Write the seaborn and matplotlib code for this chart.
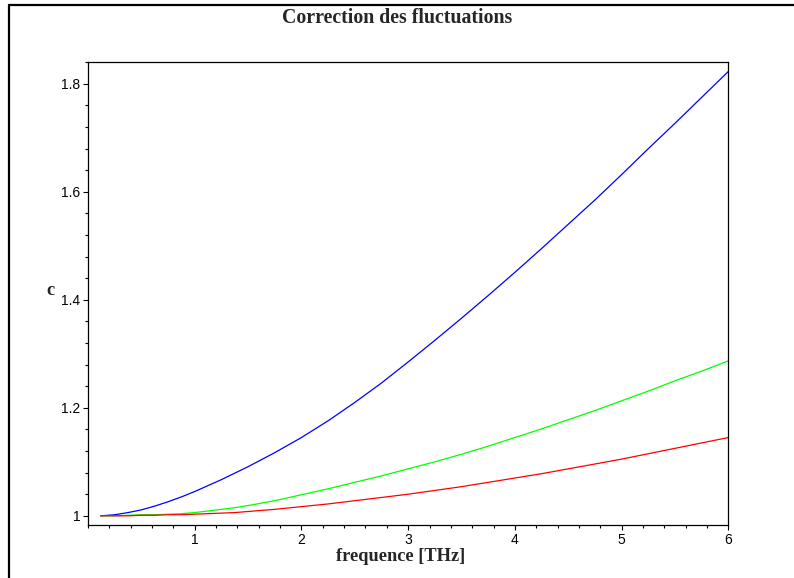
import numpy as np
import pandas as pd
import matplotlib
matplotlib.use("Agg")
import matplotlib.pyplot as plt
from matplotlib.lines import Line2D
from matplotlib.ticker import MultipleLocator, FixedLocator
import seaborn as sns

# Frequency samples [THz]
freq = [0.12, 0.25, 0.375, 0.5, 0.625, 0.75, 0.875, 1.0, 1.125, 1.25, 1.375, 1.5,
        1.75, 2.0, 2.25, 2.5, 2.75, 3.0, 3.25, 3.5, 3.75, 4.0, 4.25, 4.5, 4.75,
        5.0, 5.25, 5.5, 5.75, 6.0]

# Fluctuation correction factor c for the three cases
c_blue = [1.000, 1.002, 1.006, 1.011, 1.018, 1.026, 1.035, 1.045, 1.056, 1.067,
          1.079, 1.091, 1.117, 1.145, 1.176, 1.210, 1.246, 1.285, 1.325, 1.366,
          1.408, 1.451, 1.495, 1.540, 1.585, 1.632, 1.680, 1.727, 1.775, 1.823]
c_green = [1.000, 1.000, 1.001, 1.002, 1.002, 1.003, 1.004, 1.006, 1.009, 1.012,
           1.015, 1.019, 1.028, 1.039, 1.050, 1.062, 1.074, 1.087, 1.100, 1.114,
           1.129, 1.145, 1.161, 1.178, 1.195, 1.213, 1.231, 1.250, 1.268, 1.287]
c_red = [1.000, 1.000, 1.000, 1.001, 1.001, 1.002, 1.002, 1.003, 1.004, 1.005,
         1.006, 1.008, 1.012, 1.017, 1.022, 1.028, 1.034, 1.040, 1.047, 1.054,
         1.062, 1.070, 1.078, 1.087, 1.096, 1.105, 1.115, 1.125, 1.135, 1.145]

series_names = ["blue", "green", "red"]
series_colors = ["#0000ff", "#00ff00", "#ff0000"]

x_major = [1, 2, 3, 4, 5, 6]
y_major = [1.0, 1.2, 1.4, 1.6, 1.8]
y_major_labels = ["1", "1.2", "1.4", "1.6", "1.8"]

df = pd.DataFrame({
    "freq": freq * 3,
    "c": c_blue + c_green + c_red,
    "serie": sum([[n] * len(freq) for n in series_names], []),
})

sns.set_theme(style="white")
plt.rcParams["font.family"] = ["Liberation Sans", "DejaVu Sans"]

fig = plt.figure(figsize=(7.94, 5.78), dpi=100)
ax = fig.add_axes([0.1108, 0.0917, 0.8065, 0.8005])

sns.lineplot(data=df, x="freq", y="c", hue="serie", hue_order=series_names,
             palette=series_colors, linewidth=0.9, legend=False, ax=ax,
             sort=True, estimator=None)

ax.set_xlim(0, 6)
ax.set_ylim(0.983, 1.840)

ax.xaxis.set_major_locator(FixedLocator(x_major))
ax.xaxis.set_minor_locator(MultipleLocator(0.2))
ax.yaxis.set_major_locator(FixedLocator(y_major))
ax.set_yticklabels(y_major_labels)
ax.yaxis.set_minor_locator(MultipleLocator(0.04))

ax.tick_params(axis="both", which="major", direction="out", length=3.6,
               width=0.8, color="black", labelsize=10, labelcolor="black", pad=2)
ax.tick_params(axis="both", which="minor", direction="out", length=1.9,
               width=0.8, color="black")
ax.tick_params(left=True, bottom=True, top=False, right=False)
ax.tick_params(which="minor", left=True, bottom=True, top=False, right=False)

for s in ax.spines.values():
    s.set_visible(True)
    s.set_color("black")
    s.set_linewidth(0.9)

ax.set_xlabel("")
ax.set_ylabel("")

serif = ["Liberation Serif", "DejaVu Serif"]
fig.text(0.5, 0.968, "Correction des fluctuations", ha="center", va="center",
         fontsize=14.3, fontweight="bold", family=serif)
fig.text(0.504, 0.037, "frequence [THz]", ha="center", va="center",
         fontsize=13.2, fontweight="bold", family=serif)
fig.text(0.063, 0.497, "c", ha="center", va="center",
         fontsize=13.2, fontweight="bold", family=serif)

# outer frame (left and top edges)
fig.add_artist(Line2D([0.0113, 0.0113], [0.0, 0.9914], transform=fig.transFigure,
                      color="black", linewidth=1.6))
fig.add_artist(Line2D([0.0113, 1.0], [0.9914, 0.9914], transform=fig.transFigure,
                      color="black", linewidth=1.6))

fig.savefig("out.png", dpi=100, facecolor="white")
